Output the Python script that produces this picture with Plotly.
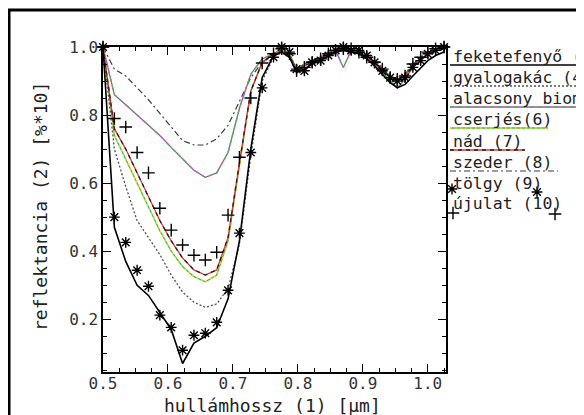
import plotly.graph_objects as go

W, H = 584, 415
OFF = 8  # page body margin of the html page

# ---------------- data ----------------
wavelength = [0.500, 0.5175, 0.535, 0.5525, 0.570, 0.5875, 0.605, 0.6225, 0.640, 0.6575,
              0.675, 0.6925, 0.710, 0.7275, 0.745, 0.7625,
              0.775, 0.787, 0.798, 0.810, 0.822, 0.835, 0.847, 0.858, 0.870, 0.882,
              0.894, 0.906, 0.918, 0.930, 0.942, 0.953, 0.965, 0.977, 0.989, 1.000, 1.012, 1.025]

feketefenyo = [1.0, 0.47, 0.37, 0.30, 0.27, 0.22, 0.17, 0.07, 0.13, 0.15, 0.175, 0.26, 0.43, 0.70, 0.91, 0.975,
               0.985, 0.97, 0.925, 0.935, 0.95, 0.96, 0.975, 0.985, 0.99, 0.985, 0.98, 0.965, 0.945, 0.92,
               0.895, 0.88, 0.89, 0.915, 0.94, 0.96, 0.975, 0.985]
gyalogakac = [1.0, 0.70, 0.59, 0.49, 0.44, 0.39, 0.33, 0.28, 0.25, 0.235, 0.245, 0.29, 0.42, 0.68, 0.90, 0.97,
              0.99, 0.98, 0.935, 0.95, 0.96, 0.97, 0.985, 0.995, 1.0, 0.995, 0.99, 0.975, 0.96, 0.94,
              0.915, 0.905, 0.92, 0.95, 0.97, 0.985, 0.995, 1.0]
alacsony = [1.0, 0.86, 0.83, 0.80, 0.77, 0.74, 0.705, 0.67, 0.638, 0.617, 0.63, 0.69, 0.82, 0.92, 0.965, 0.98,
            0.99, 0.975, 0.93, 0.95, 0.96, 0.97, 0.985, 0.99, 0.94, 0.99, 0.985, 0.97, 0.95, 0.925,
            0.90, 0.88, 0.905, 0.94, 0.965, 0.98, 0.99, 0.995]
cserjes = [1.0, 0.74, 0.67, 0.60, 0.53, 0.46, 0.40, 0.355, 0.325, 0.31, 0.33, 0.43, 0.65, 0.87, 0.955, 0.98,
           0.995, 0.98, 0.935, 0.95, 0.96, 0.965, 0.98, 0.99, 0.995, 0.99, 0.985, 0.97, 0.955, 0.935,
           0.91, 0.90, 0.915, 0.945, 0.965, 0.98, 0.99, 0.995]
nad = [1.0, 0.76, 0.70, 0.63, 0.56, 0.49, 0.43, 0.38, 0.345, 0.33, 0.345, 0.44, 0.66, 0.87, 0.955, 0.98,
       0.99, 0.975, 0.93, 0.945, 0.955, 0.965, 0.98, 0.99, 0.995, 0.99, 0.985, 0.97, 0.955, 0.935,
       0.915, 0.90, 0.915, 0.945, 0.965, 0.98, 0.99, 0.995]
szeder = [1.0, 0.935, 0.915, 0.88, 0.845, 0.805, 0.765, 0.725, 0.712, 0.712, 0.73, 0.77, 0.84, 0.91, 0.955, 0.975,
          0.985, 0.975, 0.935, 0.945, 0.955, 0.965, 0.98, 0.99, 0.995, 0.99, 0.985, 0.97, 0.955, 0.935,
          0.915, 0.905, 0.92, 0.95, 0.965, 0.98, 0.99, 0.995]
tolgy = [1.0, 0.50, 0.426, 0.344, 0.297, 0.212, 0.176, 0.109, 0.153, 0.159, 0.191, 0.285, 0.453, 0.69, 0.88, 0.97,
         1.0, 0.985, 0.935, 0.93, 0.955, 0.96, 0.975, 0.99, 1.0, 0.99, 0.99, 0.975, 0.955, 0.93,
         0.91, 0.90, 0.91, 0.94, 0.96, 0.98, 0.99, 1.0]
ujulat = [1.0, 0.79, 0.765, 0.69, 0.63, 0.526, 0.462, 0.418, 0.388, 0.374, 0.397, 0.506, 0.676, 0.85, 0.953, 0.98,
          0.995, 0.98, 0.93, 0.94, 0.955, 0.965, 0.98, 0.99, 0.995, 0.995, 0.985, 0.97, 0.955, 0.935,
          0.91, 0.905, 0.915, 0.95, 0.97, 0.985, 0.995, 1.0]

x_ticks = [0.5, 0.6, 0.7, 0.8, 0.9, 1.0]
x_tick_labels = ["0.5", "0.6", "0.7", "0.8", "0.9", "1.0"]
y_ticks = [0.2, 0.4, 0.6, 0.8, 1.0]
y_tick_labels = ["0.2", "0.4", "0.6", "0.8", "1.0"]

legend_labels = ["feketefenyő (3)", "gyalogakác (4)", "alacsony biomassza (5)", "cserjés(6)",
                 "nád (7)", "szeder (8)", "tölgy (9)", "újulat (10)"]

# ---------------- helpers (window pixel -> paper fraction) ----------------
def px(x):
    return (x - OFF) / W

def py(y):
    return 1 - (y - OFF) / H

fig = go.Figure()

def line(y, color, width=1.3, dash="solid"):
    fig.add_trace(go.Scatter(x=wavelength, y=y, mode="lines",
                             line=dict(color=color, width=width, dash=dash),
                             showlegend=False, hoverinfo="skip", cliponaxis=False))

# szeder: dash-dot
line(szeder, "#3a3a3a", 1.2, "6px,3px,2px,3px")
# alacsony biomassza: magenta with green dashes
line(alacsony, "#c040c8", 1.3)
line(alacsony, "#3cc040", 1.3, "4px,4px")
# cserjés: green with yellow dots
line(cserjes, "#40b848", 1.3)
line(cserjes, "#f0e000", 1.4, "2px,3px")
# nád: red with dark dashes
line(nad, "#e03838", 1.3)
line(nad, "#202020", 1.3, "4px,4px")
# gyalogakác: dotted
line(gyalogakac, "#505050", 1.3, "2px,2px")
# feketefenyő: solid black
line(feketefenyo, "#000000", 1.6)

fig.add_trace(go.Scatter(x=wavelength, y=tolgy, mode="markers",
                         marker=dict(symbol="asterisk-open", size=9, color="#000",
                                     line=dict(color="#000", width=1.4)),
                         showlegend=False, hoverinfo="skip", cliponaxis=False))
fig.add_trace(go.Scatter(x=wavelength, y=ujulat, mode="markers",
                         marker=dict(symbol="cross-thin-open", size=9, color="#000",
                                     line=dict(color="#000", width=1.4)),
                         showlegend=False, hoverinfo="skip", cliponaxis=False))

# legend rows (window pixel y of text centres)
rows = [56, 77, 98, 119, 141, 162, 183, 204]

# legend symbols on an overlay pixel axis (window pixel coordinates)
fig.add_trace(go.Scatter(x=[452, 537], y=[rows[6] + 6, rows[6] + 9], mode="markers", xaxis="x2", yaxis="y2",
                         marker=dict(symbol="asterisk-open", size=9, color="#000",
                                     line=dict(color="#000", width=1.4)),
                         showlegend=False, hoverinfo="skip", cliponaxis=False))
fig.add_trace(go.Scatter(x=[453, 555], y=[rows[7] + 9, rows[7] + 10], mode="markers", xaxis="x2", yaxis="y2",
                         marker=dict(symbol="cross-thin-open", size=9, color="#000",
                                     line=dict(color="#000", width=1.4)),
                         showlegend=False, hoverinfo="skip", cliponaxis=False))

axis_font = dict(family="DejaVu Sans Mono", size=16, color="#333")
common = dict(showgrid=False, zeroline=False, showline=True, linecolor="#000", linewidth=1.5,
              mirror="allticks", ticks="inside", ticklen=8, tickwidth=1.3, tickcolor="#000",
              tickfont=axis_font, automargin=False)

fig.update_layout(
    width=W, height=H, margin=dict(l=0, r=0, t=0, b=0, pad=0, autoexpand=False),
    paper_bgcolor="white", plot_bgcolor="rgba(0,0,0,0)",
    xaxis=dict(domain=[px(103), px(446)], range=[0.5, 1.028], tickvals=x_ticks, ticktext=x_tick_labels,
               minor=dict(ticks="inside", ticklen=4, tickwidth=1, tickcolor="#000", dtick=0.025, tick0=0.5),
               anchor="y", ticklabelstandoff=-4, **common),
    yaxis=dict(domain=[py(372), py(47)], range=[0.045, 1.0], tickvals=y_ticks, ticktext=y_tick_labels,
               minor=dict(ticks="inside", ticklen=4, tickwidth=1, tickcolor="#000", dtick=0.05, tick0=0.0),
               anchor="x", **common),
    xaxis2=dict(domain=[0, 1], range=[OFF, W + OFF], visible=False, anchor="y2", automargin=False),
    yaxis2=dict(domain=[0, 1], range=[H + OFF, OFF], visible=False, anchor="x2", automargin=False),
)

# outer frame
fig.add_shape(type="rect", xref="paper", yref="paper", x0=px(9), y0=py(440), x1=px(610), y1=py(10),
              line=dict(color="#000", width=3), layer="above")

# axis titles
fig.add_annotation(text="hullámhossz (1) [μm]", xref="paper", yref="paper", x=px(272), y=py(405),
                   showarrow=False, font=dict(family="DejaVu Sans Mono", size=18, color="#222"),
                   xanchor="center", yanchor="middle")
fig.add_annotation(text="reflektancia (2) [%*10]", xref="paper", yref="paper", x=px(41), y=py(207),
                   showarrow=False, font=dict(family="DejaVu Sans Mono", size=18, color="#222"),
                   textangle=-90, xanchor="center", yanchor="middle")

# legend texts
legend_font = dict(family="DejaVu Sans Mono", size=16.5, color="#222")
for lab, r in zip(legend_labels, rows):
    fig.add_annotation(text=lab, xref="paper", yref="paper", x=px(451), y=py(r), showarrow=False,
                       font=legend_font, xanchor="left", yanchor="middle")

def uline(row, x1, color, dash="solid", width=1.3):
    yv = py(row + 9)
    fig.add_shape(type="line", xref="paper", yref="paper", x0=px(450), x1=px(x1), y0=yv, y1=yv,
                  line=dict(color=color, width=width, dash=dash))

uline(rows[0], 610, "#000", "solid", 1.5)
uline(rows[1], 610, "#505050", "2px,2px")
uline(rows[2], 610, "#c040c8")
uline(rows[2], 610, "#3cc040", "4px,4px")
uline(rows[3], 548, "#40b848")
uline(rows[3], 548, "#f0e000", "2px,3px", 1.4)
uline(rows[4], 525, "#e03838")
uline(rows[4], 525, "#202020", "4px,4px")
uline(rows[5], 558, "#3a3a3a", "6px,3px,2px,3px", 1.2)

fig.write_html("out.html")
